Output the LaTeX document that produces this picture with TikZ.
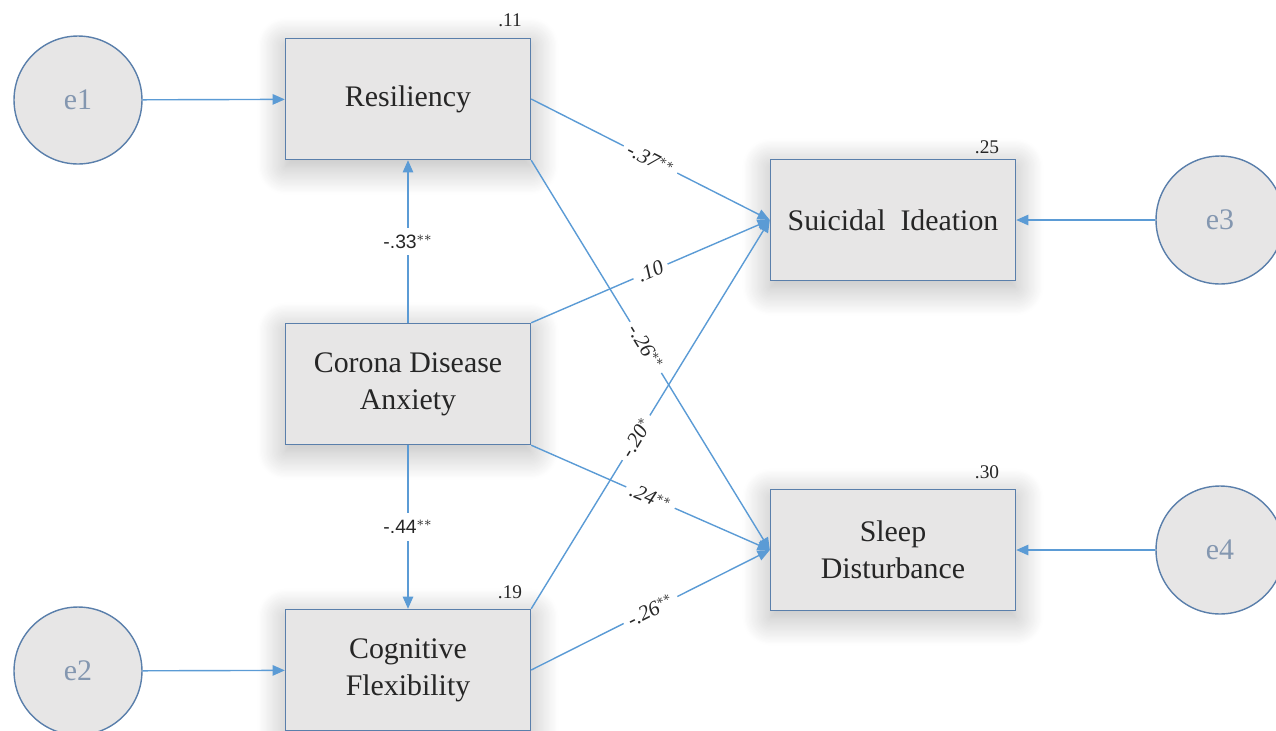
\documentclass[tikz,border=0pt]{standalone}
\usepackage{fontspec}
\setmainfont{Liberation Serif}
\setsansfont{Liberation Sans}
\usetikzlibrary{arrows.meta,shadows.blur}
\definecolor{boxfill}{HTML}{E7E6E6}
\definecolor{boxline}{HTML}{5A7FAB}
\definecolor{arrowblue}{HTML}{5B9BD5}
\definecolor{errtext}{HTML}{8497B0}
\definecolor{ink}{HTML}{262626}

\tikzset{
  var/.style={draw=boxline, thick, fill=boxfill, minimum width=4.9cm, minimum height=2.42cm,
    align=center, text=ink, font=\fontsize{17}{21}\selectfont,
    blur shadow={shadow xshift=0pt, shadow yshift=-4pt, shadow blur radius=16pt,
      shadow blur steps=24, shadow opacity=30}},
  err/.style={circle, draw=boxline, thick, fill=boxfill, minimum size=2.56cm, text=errtext,
    font=\fontsize{17}{21}\selectfont},
  path/.style={draw=arrowblue, thick, -{Triangle[length=7pt,width=6pt]}},
  coef/.style={fill=white, inner sep=3pt, text=ink, font=\fontsize{12}{14}\selectfont\itshape},
  vcoef/.style={fill=white, inner sep=4pt, text=ink, font=\sffamily\fontsize{11}{13}\selectfont},
  rsq/.style={text=ink, font=\fontsize{11}{13}\selectfont}
}

\begin{document}
\begin{tikzpicture}[x=0.02cm, y=-0.02cm]
    \useasboundingbox (0,0) rectangle (1276,731);
    \clip (0,0) rectangle (1276,731);
    \node[var] (res) at (408,99) {Resiliency};
    \node[var] (cda) at (408,384) {Corona Disease\\Anxiety};
    \node[var] (cf) at (408,670) {Cognitive\\Flexibility};
    \node[var] (si) at (893,220) {Suicidal~ Ideation};
    \node[var] (sd) at (893,550) {Sleep\\Disturbance};
    \node[err] (e1) at (78,100) {e1};
    \node[err] (e2) at (78,671) {e2};
    \node[err] (e3) at (1220,220) {e3};
    \node[err] (e4) at (1220,550) {e4};
    \node[rsq] (r1) at (510,20) {.11};
    \node[rsq] (r2) at (510,592) {.19};
    \node[rsq] (r3) at (987,147) {.25};
    \node[rsq] (r4) at (987,472) {.30};
    \draw[path] (e1) -- (res);
    \draw[path] (e2) -- (cf);
    \draw[path] (e3) -- (si);
    \draw[path] (e4) -- (sd);
    \draw[path] (cda) -- node[vcoef] {-.33$^{**}$} (res);
    \draw[path] (cda) -- node[vcoef] {-.44$^{**}$} (cf);
    \draw[path] (res.east) -- node[coef, sloped] {-.37$^{**}$} (si.west);
    \draw[path] (res.south east) -- node[coef, sloped, pos=0.48] {-.26$^{**}$} (sd.west);
    \draw[path] (cda.north east) -- node[coef, sloped] {.10} (si.west);
    \draw[path] (cda.south east) -- node[coef, sloped] {.24$^{**}$} (sd.west);
    \draw[path] (cf.north east) -- node[coef, sloped, pos=0.44] {-.20$^{*}$} (si.west);
    \draw[path] (cf.east) -- node[coef, sloped] {-.26$^{**}$} (sd.west);
\end{tikzpicture}
\end{document}
